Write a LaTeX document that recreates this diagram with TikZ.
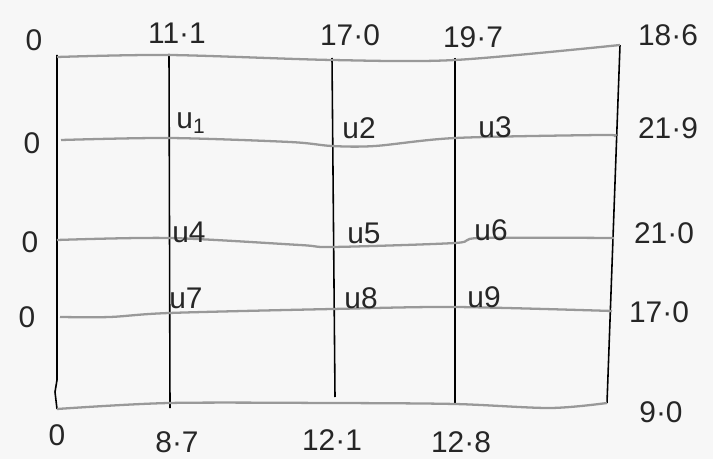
\documentclass[tikz,border=0pt]{standalone}
\usepackage{fontspec}
\setmainfont{Liberation Sans}
\usetikzlibrary{positioning}

\begin{document}
\begin{tikzpicture}[x=0.02cm, y=-0.02cm, font=\fontsize{17}{19}\selectfont,
	grid/.style={gray!80, line width=1.3pt},
	post/.style={black, line width=0.9pt},
	val/.style={inner sep=1pt, black!85}]
	\useasboundingbox (0,0) rectangle (713,459);
	\fill[black!3] (0,0) rectangle (713,459);
	\draw[post] (57,55) -- (57,380) -- (55,392) -- (57,409);
	\draw[post] (169,54) -- (170,408);
	\draw[post] (332,58) -- (335,397);
	\draw[post] (455,58) -- (455,404);
	\draw[post] (620,45) -- (607,403);
	\draw[grid] plot[smooth] coordinates {(57,57) (169,55) (332,60) (455,60) (620,45)};
	\draw[grid] plot[smooth] coordinates {(61,140) (169,138) (290,142) (332,146) (375,146) (455,138) (600,135) (614,136)};
	\draw[grid] plot[smooth] coordinates {(57,240) (169,238) (300,245) (332,247) (455,243) (480,238) (614,238)};
	\draw[grid] plot[smooth] coordinates {(60,317) (110,317) (169,313) (332,309) (455,307) (612,311)};
	\draw[grid] plot[smooth] coordinates {(57,409) (169,403) (332,403) (455,404) (550,408) (607,403)};
	\foreach \n/\p/\t in {t0/{(34,40)}/0, t1/{(177,33)}/11·1, t2/{(350,35)}/17·0,
		t3/{(473,37)}/19·7, t4/{(668,35)}/18·6}
	\node[val] (\n) at \p {\t};
	\foreach \n/\p in {l1/{(32,143)}, l2/{(30,242)}, l3/{(27,317)}, b0/{(57,435)}}
	\node[val] (\n) at \p {0};
	\foreach \n/\p/\t in {r1/{(668,128)}/21·9, r2/{(664,233)}/21·0, r3/{(659,312)}/17·0,
		r4/{(661,412)}/9·0, b1/{(177,442)}/8·7, b2/{(332,440)}/12·1, b3/{(461,442)}/12·8}
	\node[val] (\n) at \p {\t};
	\node[val] (u1) at (191,123) {u\textsubscript{1}};
	\foreach \n/\p in {2/{(359,128)}, 3/{(495,127)}, 4/{(189,232)}, 5/{(364,233)},
		6/{(491,230)}, 7/{(186,298)}, 8/{(361,298)}, 9/{(484,297)}}
	\node[val] (u\n) at \p {u\n};
\end{tikzpicture}
\end{document}
